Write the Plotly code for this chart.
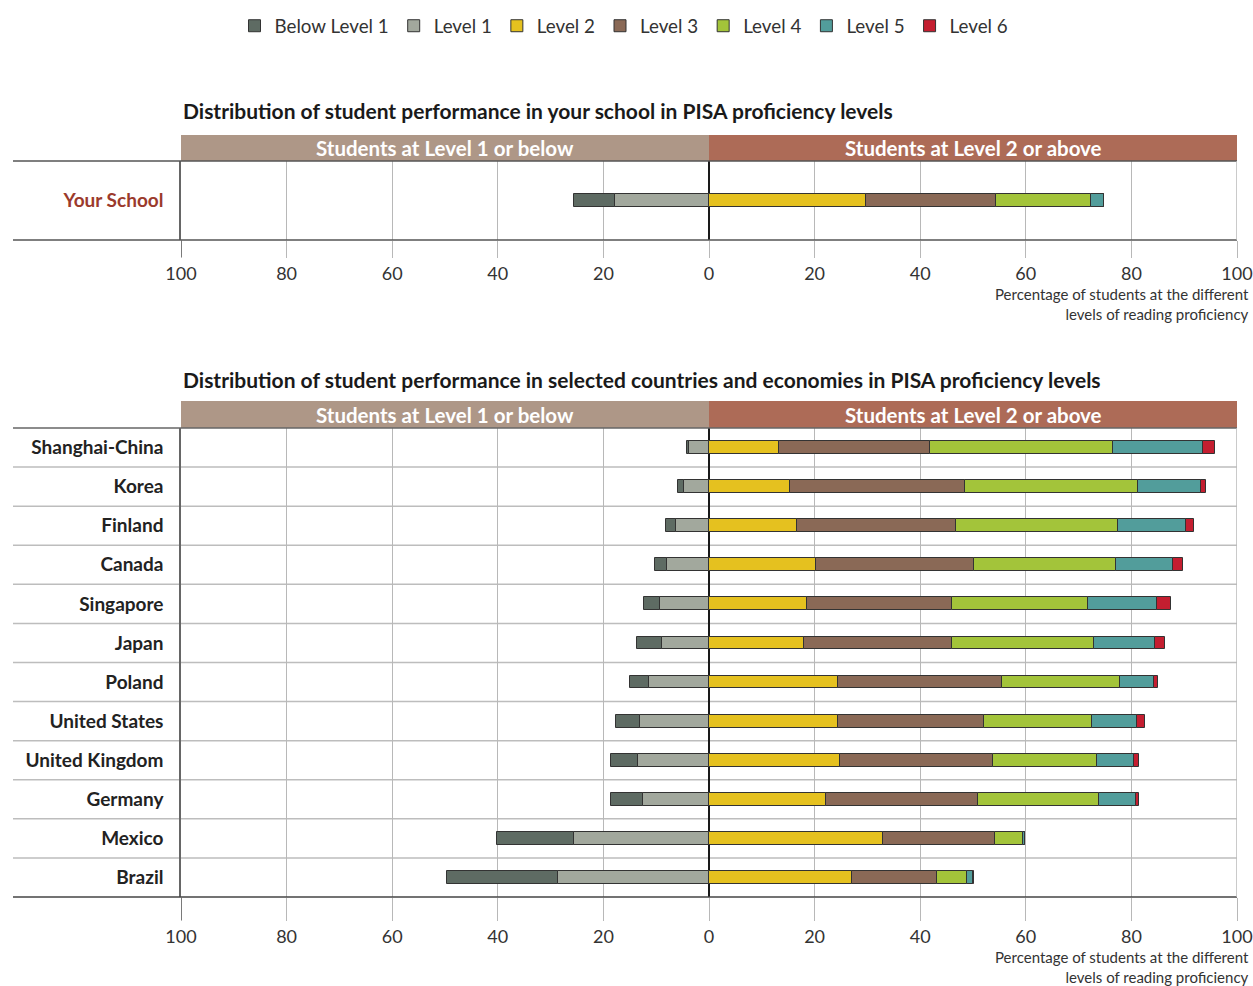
import plotly.graph_objects as go

FW, FH = 1253, 986

levels = ["Below Level 1", "Level 1", "Level 2", "Level 3", "Level 4", "Level 5", "Level 6"]
level_colors = ["#5E6B63", "#A2A89D", "#E5C11F", "#8A6956", "#A3C43A", "#529D9B", "#C41E30"]

school_label = ["Your School"]
school_values = [7.7, 17.8, 29.8, 24.5, 18.0, 2.5, 0.0]

countries = ["Shanghai-China", "Korea", "Finland", "Canada", "Singapore", "Japan",
             "Poland", "United States", "United Kingdom", "Germany", "Mexico", "Brazil"]
below_level1 = [0.4, 1.1, 1.8, 2.4, 3.1, 4.7, 3.7, 4.6, 5.1, 6.0, 14.6, 21.0]
level1 = [3.7, 4.7, 6.3, 7.9, 9.3, 8.9, 11.3, 13.1, 13.4, 12.5, 25.5, 28.6]
level2 = [13.3, 15.4, 16.7, 20.2, 18.5, 18.0, 24.5, 24.4, 24.9, 22.2, 33.0, 27.1]
level3 = [28.5, 33.0, 30.1, 30.0, 27.6, 28.0, 31.0, 27.6, 28.8, 28.8, 21.2, 16.0]
level4 = [34.7, 32.9, 30.6, 26.8, 25.7, 27.0, 22.3, 20.6, 19.8, 22.8, 5.3, 5.7]
level5 = [17.0, 11.9, 12.9, 10.8, 13.1, 11.5, 6.5, 8.4, 7.0, 7.0, 0.4, 1.2]
level6 = [2.4, 1.0, 1.6, 2.0, 2.6, 1.9, 0.7, 1.5, 1.0, 0.6, 0.0, 0.1]
country_series = [below_level1, level1, level2, level3, level4, level5, level6]

tick_vals = [-100, -80, -60, -40, -20, 0, 20, 40, 60, 80, 100]
tick_text = ["100", "80", "60", "40", "20", "0", "20", "40", "60", "80", "100"]

header_left = "Students at Level 1 or below"
header_right = "Students at Level 2 or above"
title_top = "Distribution of student performance in your school in PISA proficiency levels"
title_bottom = "Distribution of student performance in selected countries and economies in PISA proficiency levels"
axis_note = "Percentage of students at the different<br>levels of reading proficiency"

FONT = "Lato"
TXT = "#333333"


def px_y(p):
    return 1 - p / FH


def px_x(p):
    return p / FW


fig = go.Figure()

# Level 1 drawn first so that it sits next to zero on the negative side
draw_order = [1, 0, 2, 3, 4, 5, 6]
for i in draw_order:
    sign = -1 if i < 2 else 1
    fig.add_trace(go.Bar(
        y=school_label, x=[sign * school_values[i]], orientation="h",
        marker=dict(color=level_colors[i], line=dict(color="#333333", width=1)),
        width=0.16, name=levels[i], legendgroup=levels[i], showlegend=False,
        xaxis="x", yaxis="y", hoverinfo="x+name"))
    fig.add_trace(go.Bar(
        y=countries, x=[sign * v for v in country_series[i]], orientation="h",
        marker=dict(color=level_colors[i], line=dict(color="#333333", width=1)),
        width=0.33, name=levels[i], legendgroup=levels[i], legendrank=i + 1,
        showlegend=True, xaxis="x2", yaxis="y2", hoverinfo="x+name"))

xdom = [px_x(181), px_x(1237)]
top_dom = [px_y(240), px_y(161)]
bot_dom = [px_y(897), px_y(428)]

common_x = dict(range=[-100, 100], tickmode="array", tickvals=tick_vals, ticktext=tick_text,
                showgrid=True, gridcolor="#B8B8B8", gridwidth=1,
                zeroline=True, zerolinecolor="#1A1A1A", zerolinewidth=1.5,
                ticks="outside", tickcolor="#B8B8B8", tickwidth=1,
                tickfont=dict(family=FONT, size=18, color=TXT), showline=False,
                fixedrange=True, domain=xdom, automargin=False)

common_y = dict(showgrid=False, zeroline=False, showline=True, linecolor="#666666", linewidth=1.5,
                ticks="", ticklabelstandoff=12, fixedrange=True, automargin=False)

fig.update_layout(
    width=FW, height=FH, margin=dict(l=0, r=0, t=0, b=0, autoexpand=False),
    paper_bgcolor="white", plot_bgcolor="white",
    barmode="relative", bargap=0,
    font=dict(family=FONT, color=TXT),
    xaxis=dict(anchor="y", ticklen=17, **common_x),
    xaxis2=dict(anchor="y2", ticklen=23, **common_x),
    yaxis=dict(domain=top_dom, anchor="x",
               tickfont=dict(family=FONT, size=19, color="#9B3A2C", weight="bold"), **common_y),
    yaxis2=dict(domain=bot_dom, anchor="x2", autorange="reversed",
                tickfont=dict(family=FONT, size=19, color="#222222", weight="bold"), **common_y),
    legend=dict(orientation="h", x=px_x(624), xanchor="center", y=px_y(26), yanchor="middle",
                font=dict(family=FONT, size=18.8, color=TXT), traceorder="normal",
                itemclick=False, itemdoubleclick=False),
    showlegend=True,
)

shapes = []
annotations = []

# header bands
for (y0, y1, xr) in [(135, 161, "x"), (401, 428, "x2")]:
    shapes.append(dict(type="rect", xref=xr, yref="paper", x0=-100, x1=0,
                       y0=px_y(y1), y1=px_y(y0), fillcolor="#AE9787", line=dict(width=0), layer="below"))
    shapes.append(dict(type="rect", xref=xr, yref="paper", x0=0, x1=100,
                       y0=px_y(y1), y1=px_y(y0), fillcolor="#AD6B57", line=dict(width=0), layer="below"))
    annotations.append(dict(xref=xr, yref="paper", x=-50, y=px_y((y0 + y1) / 2), text=header_left,
                            showarrow=False, xanchor="center", yanchor="middle",
                            font=dict(family=FONT, size=20.5, color="white", weight="bold")))
    annotations.append(dict(xref=xr, yref="paper", x=50, y=px_y((y0 + y1) / 2), text=header_right,
                            showarrow=False, xanchor="center", yanchor="middle",
                            font=dict(family=FONT, size=20.5, color="white", weight="bold")))

# long horizontal rules
for yp, col, wd in [(161, "#555555", 1.5), (240, "#555555", 1.5), (428, "#666666", 1.5), (897, "#444444", 1.5)]:
    shapes.append(dict(type="line", xref="paper", yref="paper", x0=px_x(13), x1=px_x(1237),
                       y0=px_y(yp), y1=px_y(yp), line=dict(color=col, width=wd)))

# row separators in the country panel
for k in range(len(countries) - 1):
    shapes.append(dict(type="line", xref="paper", yref="y2", x0=px_x(13), x1=px_x(1237),
                       y0=k + 0.5, y1=k + 0.5, line=dict(color="#BDBDBD", width=1.5), layer="below"))

# right edge lines
for xr, y0, y1 in [("x", 161, 240), ("x2", 428, 897)]:
    shapes.append(dict(type="line", xref=xr, yref="paper", x0=100, x1=100,
                       y0=px_y(y1), y1=px_y(y0), line=dict(color="#B8B8B8", width=1.5)))

# darker tick below the left edge
for xr, y0, y1 in [("x", 240, 257), ("x2", 897, 920)]:
    shapes.append(dict(type="line", xref=xr, yref="paper", x0=-100, x1=-100,
                       y0=px_y(y1), y1=px_y(y0), line=dict(color="#666666", width=1.5)))

# titles
for ty, txt in [(111, title_top), (379, title_bottom)]:
    annotations.append(dict(xref="paper", yref="paper", x=px_x(181), y=px_y(ty), text=txt,
                            showarrow=False, xanchor="left", yanchor="middle",
                            font=dict(family=FONT, size=21, color="#1A1A1A", weight="bold")))

# axis notes
for ny in [304, 967]:
    annotations.append(dict(xref="paper", yref="paper", x=px_x(1251), y=px_y(ny), text=axis_note,
                            showarrow=False, xanchor="right", yanchor="middle", align="right",
                            font=dict(family=FONT, size=15, color=TXT)))

fig.update_layout(shapes=shapes, annotations=annotations)

# remove the default page margin so the figure fills the 1253x986 window exactly
fig.write_html("out.html", config={"displayModeBar": False},
               post_script="document.body.style.margin='0';")
